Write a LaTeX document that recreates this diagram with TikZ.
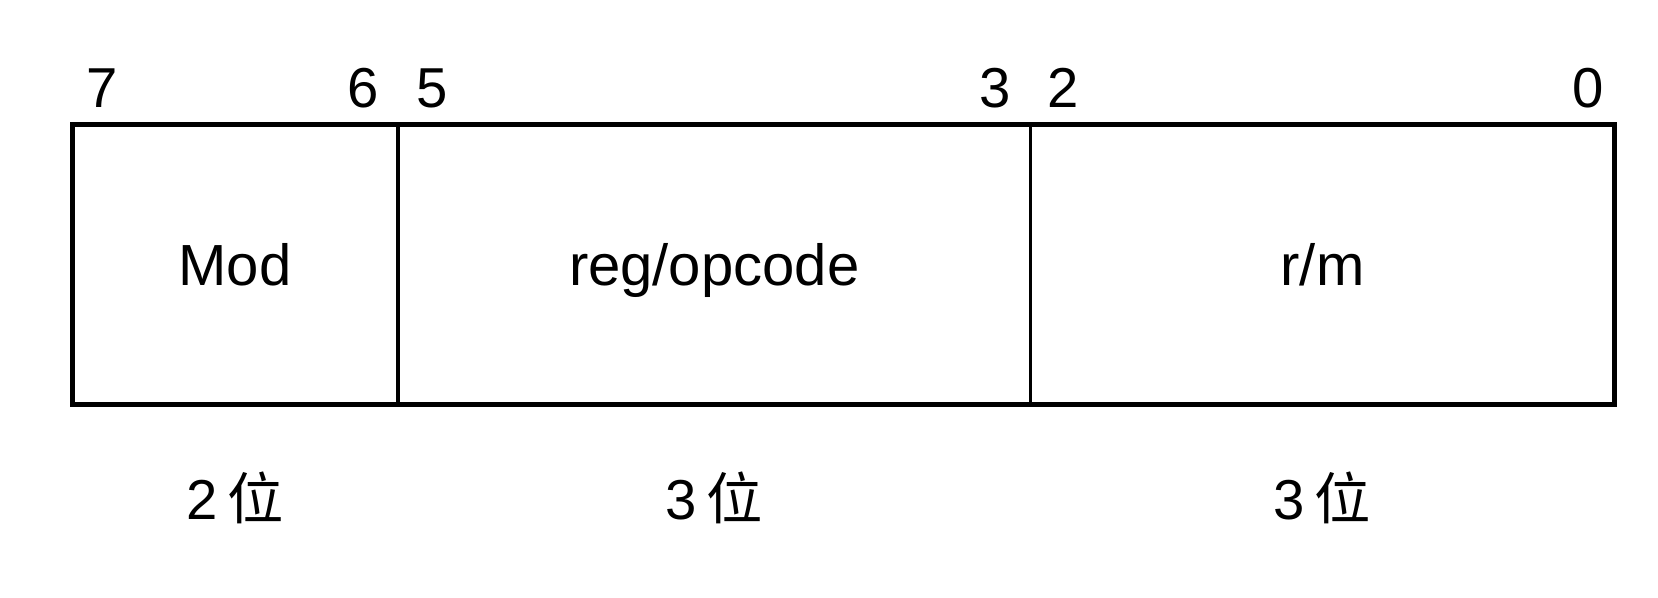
\documentclass[tikz,border=0pt]{standalone}
\usepackage{fontspec}
\setmainfont{Liberation Sans}
\newfontfamily\cjk{Noto Sans CJK SC}
\usetikzlibrary{positioning}

\begin{document}
\begin{tikzpicture}[x=0.01cm,y=-0.01cm,
  field/.style={minimum height=2.79cm,inner sep=0pt,text height=12pt,text depth=0pt,
                font=\fontsize{16.5}{18}\selectfont},
  bitnum/.style={inner sep=0pt,font=\fontsize{16}{18}\selectfont},
  width/.style={inner sep=0pt,font=\fontsize{16}{18}\selectfont}]
\useasboundingbox (0,0) rectangle (1658,598);
% the three fields of the byte
\node[field,minimum width=3.24cm] (mod) at (235,264.5) {Mod};
\node[field,minimum width=6.31cm,right=0pt of mod] (reg) {reg/opcode};
\node[field,minimum width=5.82cm,right=0pt of reg] (rm) {r/m};
\draw[line width=1.5pt] (mod.north west) rectangle (rm.south east);
\draw[line width=1.2pt] (mod.north east) -- (mod.south east);
\draw[line width=0.7pt] (reg.north east) -- (reg.south east);
% bit numbers
\node[bitnum] (b7) at (102,88) {7};
\node[bitnum] (b6) at (363,88) {6};
\node[bitnum] (b5) at (432,88) {5};
\node[bitnum] (b3) at (995,88) {3};
\node[bitnum] (b2) at (1063,88) {2};
\node[bitnum] (b0) at (1588,88) {0};
% field widths
\node[width,below=0.66cm of mod] (wmod) {2\,{\cjk 位}};
\node[width,below=0.66cm of reg] (wreg) {3\,{\cjk 位}};
\node[width,below=0.66cm of rm] (wrm) {3\,{\cjk 位}};
\end{tikzpicture}
\end{document}
